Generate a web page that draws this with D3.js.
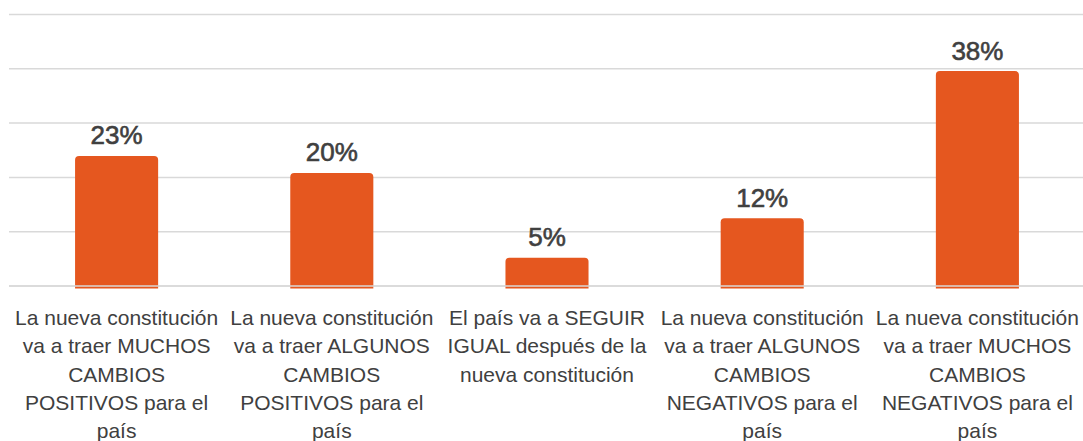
<!DOCTYPE html>
<html>
<head>
<meta charset="utf-8">
<script src="https://cdn.jsdelivr.net/npm/d3@7"></script>
<style>
  html, body { margin: 0; padding: 0; background: #fff; }
  svg { display: block; font-family: "Liberation Sans", Arial, sans-serif; }
</style>
</head>
<body>
<div id="main"></div>
<script>
'use strict';

var width = 1083;
var height = 441;

// data
var categories = [
  'La nueva constitución va a traer MUCHOS CAMBIOS POSITIVOS para el país',
  'La nueva constitución va a traer ALGUNOS CAMBIOS POSITIVOS para el país',
  'El país va a SEGUIR IGUAL después de la nueva constitución',
  'La nueva constitución va a traer ALGUNOS CAMBIOS NEGATIVOS para el país',
  'La nueva constitución va a traer MUCHOS CAMBIOS NEGATIVOS para el país'
];
var values = [23, 20, 5, 12, 38];
var gridValues = [0, 9.6, 19.2, 28.8, 38.4, 48];

var svg = d3.select('#main').append('svg')
  .attr('width', width)
  .attr('height', height);

var x = d3.scaleBand()
  .domain(categories)
  .range([9, 1085])
  .paddingInner(0.614)
  .paddingOuter(0.307);

var y = d3.scaleLinear()
  .domain([0, 48])
  .range([286, 14.5]);

// gridlines
svg.append('g').attr('class', 'grid')
  .selectAll('line')
  .data(gridValues).enter()
  .append('line')
  .attr('x1', 9)
  .attr('x2', width)
  .attr('y1', function(d) { return y(d); })
  .attr('y2', function(d) { return y(d); })
  .attr('stroke', '#d9d9d9')
  .attr('stroke-width', 1.5);

// bars with rounded top corners
function barPath(x0, y0, w, y1, r) {
  return 'M' + x0 + ',' + y1 +
    'V' + (y0 + r) +
    'Q' + x0 + ',' + y0 + ' ' + (x0 + r) + ',' + y0 +
    'H' + (x0 + w - r) +
    'Q' + (x0 + w) + ',' + y0 + ' ' + (x0 + w) + ',' + (y0 + r) +
    'V' + y1 + 'Z';
}

svg.append('g').attr('class', 'bars')
  .selectAll('path')
  .data(values).enter()
  .append('path')
  .attr('d', function(d, i) {
    return barPath(x(categories[i]), y(d), x.bandwidth(), y(0) + 2.5, 4);
  })
  .attr('fill', '#e5571f');

// baseline drawn over the bars
svg.append('line')
  .attr('x1', 9).attr('x2', width)
  .attr('y1', y(0)).attr('y2', y(0))
  .attr('stroke', '#d9d9d9')
  .attr('stroke-width', 1.5);

// value labels
svg.append('g').attr('class', 'labels')
  .selectAll('text')
  .data(values).enter()
  .append('text')
  .attr('x', function(d, i) { return x(categories[i]) + x.bandwidth() / 2; })
  .attr('y', function(d) { return y(d) - 11.5; })
  .attr('text-anchor', 'middle')
  .attr('font-size', 26)
  .attr('fill', '#404040')
  .attr('stroke', '#404040')
  .attr('stroke-width', 0.6)
  .text(function(d) { return d + '%'; });

// category labels, wrapped to the band step
var cat = svg.append('g').attr('class', 'cats')
  .selectAll('text')
  .data(categories).enter()
  .append('text')
  .attr('x', function(d) { return x(d) + x.bandwidth() / 2; })
  .attr('y', 325)
  .attr('text-anchor', 'middle')
  .attr('font-size', 21)
  .attr('fill', '#404040');

cat.each(function(d) {
  var text = d3.select(this);
  var words = d.split(' ');
  var cx = text.attr('x');
  var line = [];
  var tspan = text.append('tspan').attr('x', cx).attr('dy', 0);
  words.forEach(function(w) {
    line.push(w);
    tspan.text(line.join(' '));
    if (tspan.node().getComputedTextLength() > x.step() - 2 && line.length > 1) {
      line.pop();
      tspan.text(line.join(' '));
      line = [w];
      tspan = text.append('tspan').attr('x', cx).attr('dy', 28.3).text(w);
    }
  });
});
</script>
</body>
</html>
